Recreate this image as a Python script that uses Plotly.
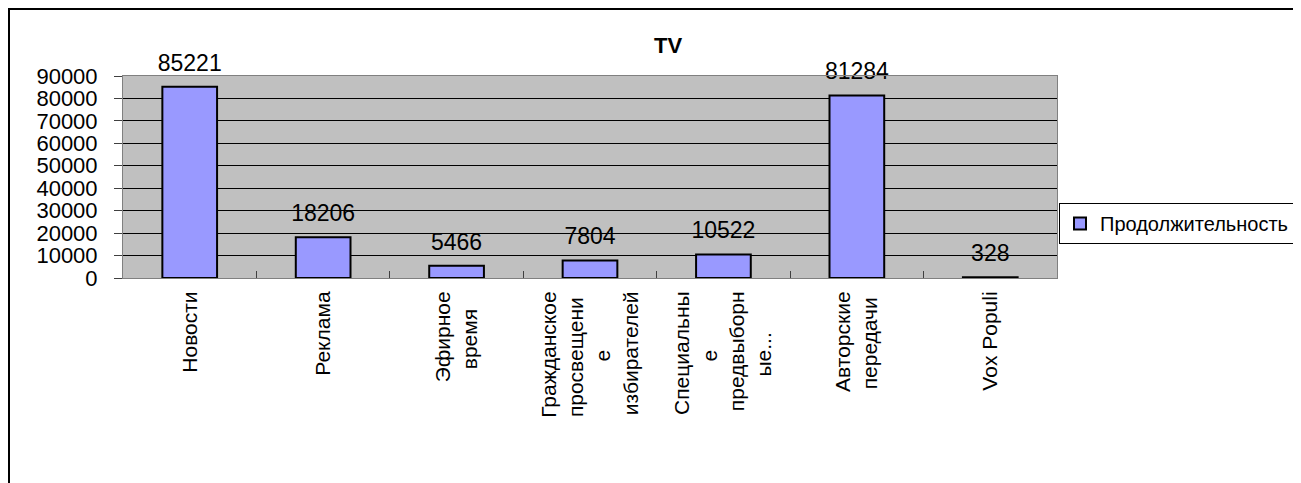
import plotly.graph_objects as go

# data
categories = [
    "Новости",
    "Реклама",
    "Эфирное\nвремя",
    "Гражданское\nпросвещени\nе\nизбирателей",
    "Специальны\nе\nпредвыборн\nые...",
    "Авторские\nпередачи",
    "Vox Populi",
]
durations = [85221, 18206, 5466, 7804, 10522, 81284, 328]
series_name = "Продолжительность"
chart_title = "TV"
y_ticks = list(range(0, 90001, 10000))

FONT = "Liberation Sans, Arial, sans-serif"
BAR_COLOR = "#9999FF"
PLOT_BG = "#C0C0C0"

# the page puts the figure at (8, 8), so the figure is a bit smaller than the window
OFF = 8
W, H = 1301 - OFF, 483 - OFF
PX0, PX1, PY0, PY1 = 123, 1057, 76, 278   # plot area in page pixels
L, R, T, B = PX0 - OFF, W - (PX1 - OFF), PY0 - OFF, H - (PY1 - OFF)


def px_x(x):
    return (x - PX0) / (PX1 - PX0)


def px_y(y):
    return (PY1 - y) / (PY1 - PY0)


# rough Arial advance widths (em) so wrapped label lines can be centred
_W = {"ф": .82, "ш": .80, "щ": .82, "ы": .72, "ю": .75, "ж": .67, "м": .69,
      "г": .37, "т": .46, "к": .44, "з": .46, "с": .5, "у": .5, "х": .5,
      "л": .58, "д": .58, "ц": .58, "ь": .52, "ч": .52, "в": .53, "я": .54,
      ".": .278, " ": .278}


def _width(s):
    return sum(_W.get(c, .69 if c.isupper() else .556) for c in s)


def centred_label(name):
    lines = name.split("\n")
    widest = max(_width(ln) for ln in lines)
    out = []
    for ln in lines:
        pad = int(round((widest - _width(ln)) / 2 / 0.278))
        out.append(ln + "\u00a0" * pad)
    return "<br>".join(out)


tick_text = [centred_label(c) for c in categories]

fig = go.Figure()
fig.add_trace(go.Bar(
    x=categories,
    y=durations,
    name=series_name,
    marker=dict(color=BAR_COLOR, line=dict(color="black", width=2)),
    hoverinfo="y",
))
# value labels sitting a bit above the bars
fig.add_trace(go.Scatter(
    x=categories,
    y=durations,
    mode="markers+text",
    text=[str(v) for v in durations],
    textposition="top center",
    textfont=dict(family=FONT, size=23, color="black"),
    marker=dict(size=15, opacity=0),
    cliponaxis=False,
    showlegend=False,
    hoverinfo="skip",
))

fig.update_layout(
    width=W,
    height=H,
    margin=dict(l=L, r=R, t=T, b=B, autoexpand=False),
    paper_bgcolor="white",
    plot_bgcolor=PLOT_BG,
    bargap=0.59,
    font=dict(family=FONT, color="black"),
    title=dict(
        text="<b>" + chart_title + "</b>",
        x=(668 - OFF) / W, xref="container", xanchor="center",
        y=1 - (45 - OFF) / H, yref="container", yanchor="middle",
        font=dict(family=FONT, size=22, color="black"),
    ),
    legend=dict(
        x=px_x(1059), y=px_y(203), xanchor="left", yanchor="top",
        bordercolor="black", borderwidth=1,
        bgcolor="white",
        font=dict(family=FONT, size=20, color="black"),
    ),
    showlegend=True,
    shapes=[dict(
        type="rect", xref="paper", yref="paper",
        x0=px_x(OFF + 1), x1=px_x(1298.5), y0=px_y(600), y1=px_y(OFF + 1),
        line=dict(color="black", width=2), fillcolor="rgba(0,0,0,0)",
        layer="above",
    )],
)

fig.update_xaxes(
    type="category",
    tickvals=categories,
    ticktext=tick_text,
    tickangle=-90,
    tickfont=dict(family=FONT, size=21, color="black"),
    ticks="inside", tickson="boundaries", ticklen=7, tickcolor="#404040",
    showline=True, linecolor="#808080", linewidth=1, mirror=True,
    showgrid=False,
    ticklabelstandoff=4,
)
fig.update_yaxes(
    range=[0, 90000],
    tickvals=y_ticks,
    tickformat="d",
    tickfont=dict(family=FONT, size=22, color="black"),
    ticks="outside", ticklen=8, tickcolor="#404040",
    showline=True, linecolor="#808080", linewidth=1, mirror=True,
    showgrid=True, gridcolor="black", gridwidth=1,
    zeroline=False,
    ticklabelstandoff=12,
)

fig.write_html("out.html")
